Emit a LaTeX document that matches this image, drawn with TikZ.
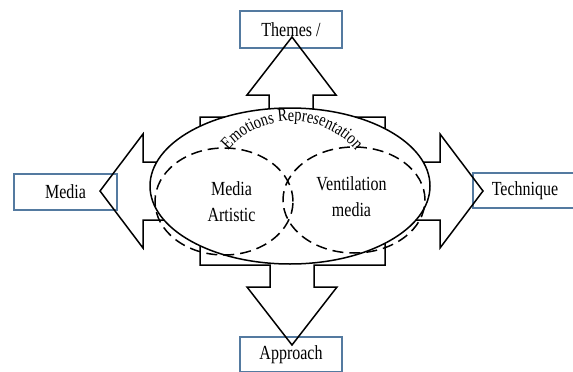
\documentclass[tikz,border=0pt]{standalone}
\usepackage{fontspec}
\setmainfont[FakeStretch=0.8]{Liberation Serif}
\usetikzlibrary{shapes.geometric,decorations.text}
\definecolor{boxblue}{RGB}{84,122,160}

\begin{document}
\begin{tikzpicture}[x=1pt,y=1pt,line width=1.5pt,
 every node/.style={font=\fontsize{20}{26}\selectfont,align=center},
 outbox/.style={draw=boxblue,line width=1.3pt,minimum width=102pt,minimum height=36pt,inner sep=0pt},
 field/.style={ellipse,draw,dash pattern=on 11pt off 6pt,inner sep=0pt}]
 \useasboundingbox (0,0) rectangle (573,-372);
 \node[outbox,minimum height=37pt] (themes) at (291,-29.5) {Themes /};
 \node[outbox,minimum width=103pt] (media) at (65.5,-192) {Media};
 \node[outbox,minimum width=104pt,minimum height=35pt] (technique) at (525,-190.5) {Technique};
 \node[outbox,minimum height=35pt] (approach) at (291,-354.5) {Approach};
 % block arrows
 \draw[line join=miter] (200,-117) -- (269,-117) -- (269,-95) -- (247,-95) -- (292,-37) -- (336,-95) -- (313,-95) -- (313,-117)
  -- (385,-117) -- (385,-162) -- (440,-162) -- (440,-134) -- (483,-191) -- (440,-248) -- (440,-220) -- (385,-220)
  -- (385,-265) -- (314,-265) -- (314,-287) -- (337,-287) -- (292,-345) -- (247,-287) -- (270,-287) -- (270,-265)
  -- (200,-265) -- (200,-220) -- (143,-220) -- (143,-248) -- (100,-191) -- (143,-134) -- (143,-162) -- (200,-162) -- cycle;
 \node[ellipse,draw,fill=white,minimum width=280pt,minimum height=156pt] (emotions) at (290,-186) {};
 \node[field,minimum width=138pt,minimum height=107pt] (artistic) at (224,-201.5) {};
 \node[field,minimum width=142pt,minimum height=106pt] (ventilation) at (354,-200) {};
 \node (artistic text) at (231.5,-202) {Media\\Artistic};
 \node (ventilation text) at (351.5,-197) {Ventilation\\media};
 \path[decorate,decoration={text along path,text align=center,
  text={|\fontsize{18}{18}\selectfont|Emotions Representation}}]
  (292,-205) ++(142:84) arc[start angle=142,end angle=38,radius=84];
\end{tikzpicture}
\end{document}
